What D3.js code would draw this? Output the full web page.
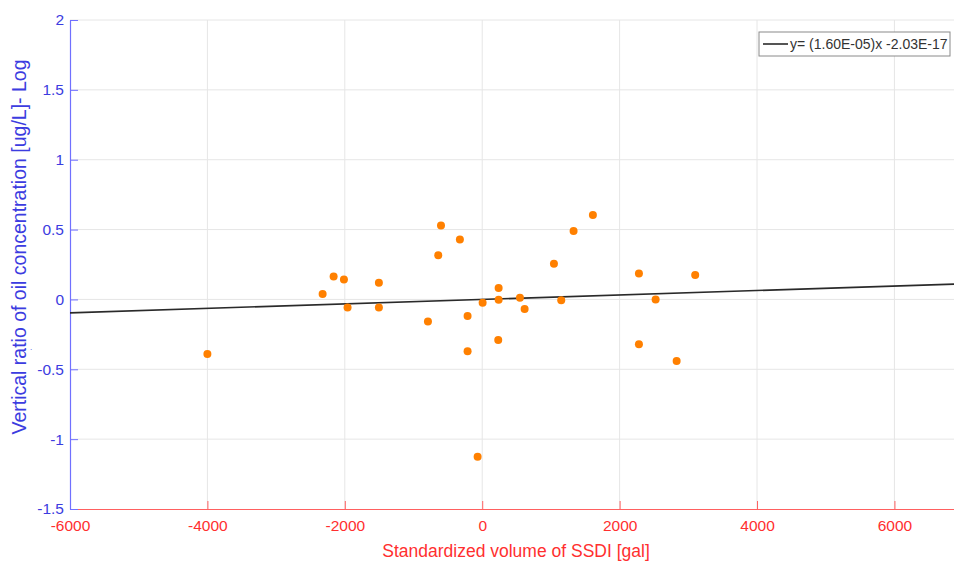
<!DOCTYPE html>
<html>
<head>
<meta charset="utf-8">
<script src="https://cdn.jsdelivr.net/npm/d3@7"></script>
<style>
  body { margin: 0; background: #fff; }
  svg { display: block; font-family: "Liberation Sans", Arial, sans-serif; }
</style>
</head>
<body>
<script>
// scatter of standardized SSDI volume vs vertical oil ratio, with linear fit

const ssdiVolume = [-4000, -2323, -2163, -2013, -1960, -1504, -1504, -790, -640, -600,
  -325, 239, 6, 239, 549, 617, -213, 233, -213, 1044,
  1330, 1611, 1150, -67, 2281, 3100, 2524, 2281, 2830];
const oilRatio = [-0.39, 0.038, 0.164, 0.143, -0.057, 0.119, -0.057, -0.158, 0.316, 0.53,
  0.429, 0.081, -0.024, -0.002, 0.012, -0.069, -0.119, -0.29, -0.371, 0.255,
  0.49, 0.605, -0.005, -1.126, 0.186, 0.174, 0.0, -0.321, -0.44];

const xTicks = [-6000, -4000, -2000, 0, 2000, 4000, 6000];
const yTicks = [-1.5, -1, -0.5, 0, 0.5, 1, 1.5, 2];

const fitSlope = 1.60e-5;
const fitIntercept = -2.03e-17;
const fitLabel = "y= (1.60E-05)x -2.03E-17";

const xTitle = "Standardized volume of SSDI [gal]";
const yTitle = "Vertical ratio of oil concentration [ug/L]- Log";

const width = 954, height = 563;
const margin = {top: 20, right: 0, bottom: 54, left: 70};

const blue = "#3c3ce0", blueAxis = "#7070ff";
const red = "#ff2f2f", redAxis = "#ff6060";

const svg = d3.select("body").append("svg")
  .attr("width", width)
  .attr("height", height);

const x = d3.scaleLinear()
  .domain([-6000, 6867])
  .range([margin.left, width - margin.right]);

const y = d3.scaleLinear()
  .domain([-1.5, 2])
  .range([height - margin.bottom, margin.top]);

// grid
svg.append("g")
  .selectAll("line.vgrid")
  .data(xTicks.filter(d => d !== -6000))
  .join("line")
  .attr("x1", d => x(d)).attr("x2", d => x(d))
  .attr("y1", y(-1.5)).attr("y2", y(2))
  .attr("stroke", "#e6e6e6").attr("stroke-width", 1);

svg.append("g")
  .selectAll("line.hgrid")
  .data(yTicks.filter(d => d !== -1.5))
  .join("line")
  .attr("x1", x(-6000)).attr("x2", width)
  .attr("y1", d => y(d)).attr("y2", d => y(d))
  .attr("stroke", "#e6e6e6").attr("stroke-width", 1);

// x axis (ticks point inward)
const xAxis = svg.append("g")
  .attr("transform", `translate(0,${y(-1.5)})`)
  .call(d3.axisBottom(x).tickValues(xTicks).tickFormat(d => String(d))
    .tickSizeInner(-8).tickSizeOuter(0).tickPadding(11));
xAxis.select(".domain").attr("stroke", redAxis).attr("stroke-width", 1.2);
xAxis.selectAll(".tick line").attr("stroke", redAxis);
xAxis.selectAll(".tick text")
  .attr("fill", red)
  .attr("font-size", 15.5)
  .attr("font-family", "'Liberation Sans', Arial, sans-serif");

// y axis
const yAxis = svg.append("g")
  .attr("transform", `translate(${x(-6000)},0)`)
  .call(d3.axisLeft(y).tickValues(yTicks).tickFormat(d => String(d))
    .tickSizeInner(-8).tickSizeOuter(0).tickPadding(6));
yAxis.select(".domain").attr("stroke", blueAxis).attr("stroke-width", 1.2);
yAxis.selectAll(".tick line").attr("stroke", blueAxis);
yAxis.selectAll(".tick text")
  .attr("fill", blue)
  .attr("font-size", 15.5)
  .attr("font-family", "'Liberation Sans', Arial, sans-serif");

// axis titles
svg.append("text")
  .attr("x", 516)
  .attr("y", 557)
  .attr("text-anchor", "middle")
  .attr("fill", red)
  .attr("font-size", 17.5)
  .text(xTitle);

svg.append("text")
  .attr("transform", `translate(26,247) rotate(-90)`)
  .attr("text-anchor", "middle")
  .attr("fill", blue)
  .attr("font-size", 19.5)
  .text(yTitle);

svg.append("text")
  .attr("x", 30)
  .attr("y", 350)
  .attr("fill", blue)
  .attr("font-size", 8)
  .text(".");

// fit line
const xDom = x.domain();
svg.append("line")
  .attr("x1", x(xDom[0])).attr("y1", y(fitSlope * xDom[0] + fitIntercept))
  .attr("x2", x(xDom[1])).attr("y2", y(fitSlope * xDom[1] + fitIntercept))
  .attr("stroke", "#2a2a2a")
  .attr("stroke-width", 1.6);

// points
svg.append("g")
  .selectAll("circle")
  .data(ssdiVolume.map((v, i) => [v, oilRatio[i]]))
  .join("circle")
  .attr("cx", d => x(d[0]))
  .attr("cy", d => y(d[1]))
  .attr("r", 4)
  .attr("fill", "#ff8000");

// legend
const legend = svg.append("g").attr("transform", "translate(759,32)");
legend.append("rect")
  .attr("width", 191).attr("height", 24)
  .attr("fill", "#fff")
  .attr("stroke", "#8a8a8a");
legend.append("line")
  .attr("x1", 4).attr("x2", 29)
  .attr("y1", 12).attr("y2", 12)
  .attr("stroke", "#2a2a2a").attr("stroke-width", 1.6);
legend.append("text")
  .attr("x", 31).attr("y", 17)
  .attr("fill", "#333")
  .attr("font-size", 14)
  .text(fitLabel);
</script>
</body>
</html>
